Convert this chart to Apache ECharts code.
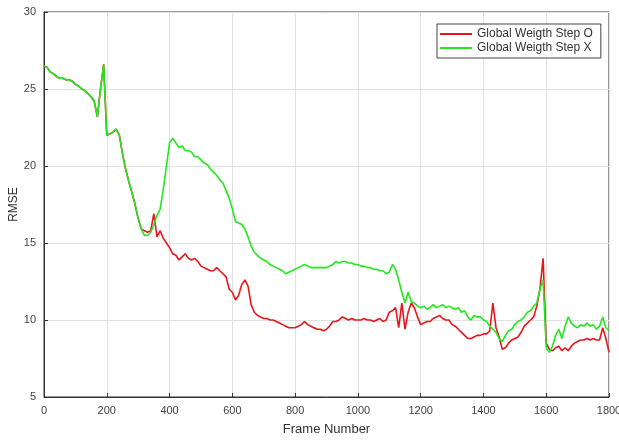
<!DOCTYPE html>
<html>
<head>
<meta charset="utf-8">
<script src="https://cdn.jsdelivr.net/npm/echarts@6/dist/echarts.min.js"></script>
<style>
  html, body { margin: 0; padding: 0; background: #fff; }
  #chart { width: 619px; height: 441px; }
</style>
</head>
<body>
<div id="chart"></div>
<script>
// frame numbers, every 10 frames
var frames = [];
for (var f = 0; f <= 1800; f += 10) frames.push(f);

var seriesNames = ['Global Weigth Step O', 'Global Weigth Step X'];

// RMSE (green = step X)
var rmseX = [
  26.5, 26.4, 26.1, 26.0, 25.8, 25.7, 25.7, 25.6, 25.6, 25.5,
  25.3, 25.2, 25.0, 24.9, 24.7, 24.5, 24.2, 23.2, 25.0, 26.6,
  22.0, 22.1, 22.2, 22.4, 22.0, 20.8, 19.8, 19.0, 18.3, 17.5,
  16.6, 15.9, 15.5, 15.5, 15.7, 16.2, 16.8, 17.2, 18.5, 20.0,
  21.5, 21.8, 21.5, 21.2, 21.3, 21.0, 21.0, 20.9, 20.6, 20.6,
  20.4, 20.2, 20.1, 19.8, 19.6, 19.4, 19.1, 18.9, 18.4, 17.9,
  17.2, 16.4, 16.3, 16.2, 15.9, 15.4, 14.8, 14.4, 14.2, 14.0,
  13.9, 13.8, 13.6, 13.5, 13.4, 13.3, 13.2, 13.0, 13.1, 13.2,
  13.3, 13.4, 13.5, 13.6, 13.5, 13.4, 13.4, 13.4, 13.4, 13.4,
  13.4, 13.5, 13.6, 13.8, 13.7, 13.8, 13.8, 13.7, 13.7, 13.6,
  13.6, 13.5, 13.5, 13.4, 13.4, 13.3, 13.3, 13.2, 13.2, 13.0,
  13.1, 13.6, 13.3, 12.6, 11.8, 11.1, 11.8, 11.2, 11.1, 10.9,
  10.8, 10.9, 10.7, 10.8, 11.0, 10.8, 10.9, 11.0, 10.8, 10.9,
  10.8, 10.7, 10.8, 10.5, 10.6, 10.2, 10.0, 10.3, 10.2, 10.2,
  10.0, 9.9, 9.6, 9.4, 9.2, 8.8, 8.6, 9.0, 9.3, 9.4,
  9.7, 9.9, 10.0, 10.2, 10.5, 10.6, 10.9, 11.1, 12.0, 12.6,
  8.2, 7.9, 8.3, 9.0, 9.4, 8.8, 9.6, 10.2, 9.8, 9.6,
  9.5, 9.7, 9.6, 9.8, 9.6, 9.7, 9.4, 9.6, 10.2, 9.5,
  9.3
];

// red = step O
var rmseO = [
  26.5, 26.4, 26.1, 26.0, 25.8, 25.7, 25.7, 25.6, 25.6, 25.5,
  25.3, 25.2, 25.0, 24.9, 24.7, 24.5, 24.2, 23.2, 25.0, 26.6,
  22.0, 22.1, 22.2, 22.4, 22.0, 20.8, 19.8, 19.0, 18.3, 17.5,
  16.6, 15.9, 15.8, 15.7, 15.8, 16.9, 15.4, 15.8, 15.3, 15.0,
  14.7, 14.3, 14.2, 13.9, 14.1, 14.3, 14.0, 13.9, 14.0, 13.8,
  13.5, 13.4, 13.3, 13.2, 13.2, 13.4, 13.2, 13.0, 12.8, 12.0,
  11.8, 11.3, 11.6, 12.3, 12.6, 12.2, 11.0, 10.5, 10.3, 10.2,
  10.1, 10.1, 10.0, 10.0, 9.9, 9.8, 9.7, 9.6, 9.5, 9.5,
  9.5, 9.6, 9.7, 9.9, 9.7, 9.6, 9.5, 9.4, 9.4, 9.3,
  9.4, 9.6, 9.9, 9.9, 10.0, 10.2, 10.1, 10.0, 10.1, 10.0,
  10.0, 10.0, 10.1, 10.0, 10.0, 9.9, 10.0, 10.1, 9.9, 10.0,
  10.5, 10.6, 10.8, 9.5, 11.1, 9.4, 10.5, 11.1, 10.8, 10.2,
  9.7, 9.8, 9.9, 9.9, 10.1, 10.2, 10.3, 10.1, 10.0, 10.0,
  9.7, 9.6, 9.4, 9.2, 9.0, 8.8, 8.8, 8.9, 9.0, 9.0,
  9.1, 9.1, 9.3, 11.1, 9.5, 8.9, 8.1, 8.2, 8.5, 8.7,
  8.8, 8.9, 9.2, 9.6, 9.8, 10.0, 10.2, 10.9, 12.0, 14.0,
  8.5, 8.1, 8.0, 8.2, 8.3, 8.0, 8.2, 8.0, 8.3, 8.5,
  8.6, 8.7, 8.7, 8.8, 8.7, 8.8, 8.7, 8.7, 9.5, 8.8,
  7.9
];

var chart = echarts.init(document.getElementById('chart'));

var font = '"Liberation Sans", Arial, sans-serif';

chart.setOption({
  animation: false,
  grid: {
    left: 44, right: 10, top: 12, bottom: 44,
    outerBoundsMode: 'none',
    show: true, borderColor: '#333', borderWidth: 1
  },
  legend: {
    data: seriesNames,
    orient: 'vertical',
    left: 437, top: 24,
    icon: 'rect',
    backgroundColor: '#fff',
    borderColor: '#444', borderWidth: 1,
    padding: [4, 8, 4, 3],
    itemGap: 2,
    itemWidth: 32, itemHeight: 2,
    textStyle: { fontFamily: font, fontSize: 12, color: '#333', lineHeight: 12 }
  },
  xAxis: {
    type: 'value',
    min: 0, max: 1800, interval: 200,
    name: 'Frame Number',
    nameLocation: 'middle', nameGap: 26,
    nameTextStyle: { fontFamily: font, fontSize: 13, color: '#333' },
    axisLine: { lineStyle: { color: '#333' } },
    axisTick: { inside: true, length: 4, lineStyle: { color: '#333' } },
    axisLabel: {
      fontFamily: font, fontSize: 11, color: '#444', margin: 8,
      formatter: function (v) { return String(v); }
    },
    splitLine: { show: true, lineStyle: { color: '#e2e2e2' } }
  },
  yAxis: {
    type: 'value',
    min: 5, max: 30, interval: 5,
    name: 'RMSE',
    nameLocation: 'middle', nameGap: 24,
    nameMoveOverlap: false,
    nameTextStyle: { fontFamily: font, fontSize: 12, color: '#333' },
    axisLine: { show: true, lineStyle: { color: '#333' } },
    axisTick: { show: true, inside: true, length: 4, lineStyle: { color: '#333' } },
    axisLabel: { fontFamily: font, fontSize: 11, color: '#444', margin: 8 },
    splitLine: { show: true, lineStyle: { color: '#e2e2e2' } }
  },
  series: [
    {
      name: seriesNames[0],
      type: 'line',
      symbol: 'none',
      color: '#e8161c',
      lineStyle: { width: 1.6 },
      data: frames.map(function (x, i) { return [x, rmseO[i]]; })
    },
    {
      name: seriesNames[1],
      type: 'line',
      symbol: 'none',
      color: '#22e81e',
      lineStyle: { width: 1.6 },
      data: frames.map(function (x, i) { return [x, rmseX[i]]; })
    }
  ]
});
</script>
</body>
</html>
